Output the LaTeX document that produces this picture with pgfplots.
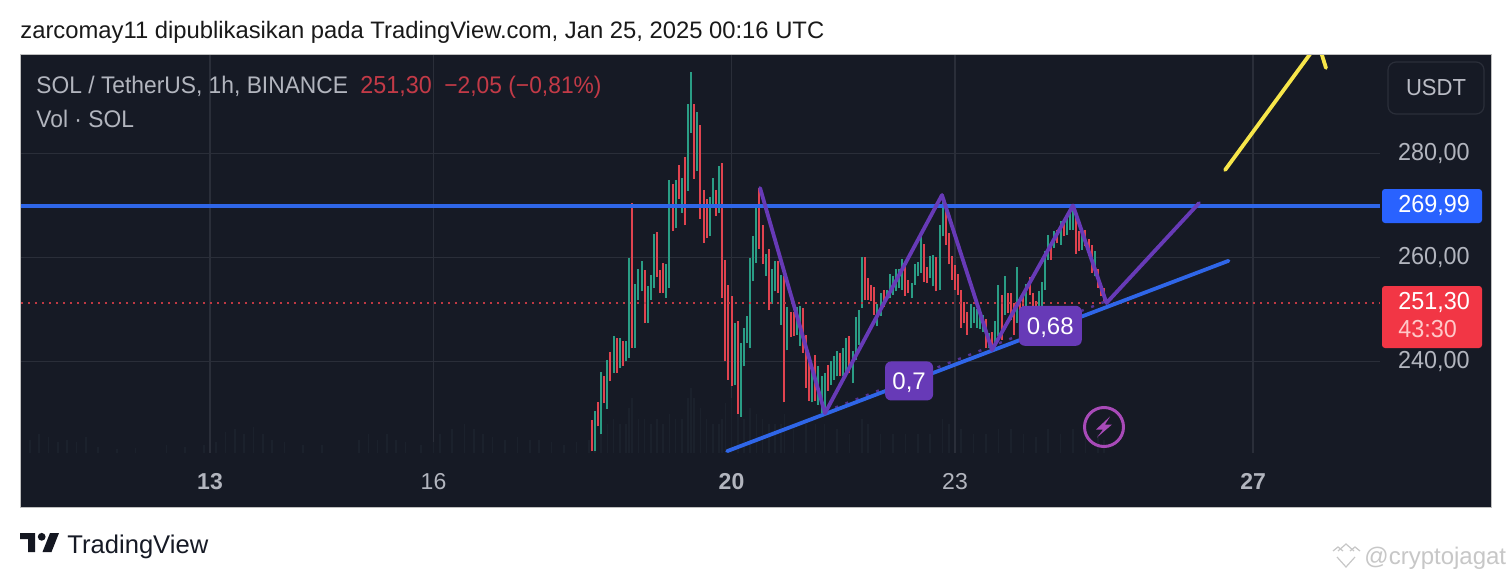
\documentclass[border=0pt]{standalone}
\usepackage{pgfplots}
\usepackage{pgfplotstable}
\usepackage{fontspec}
\setmainfont{Liberation Sans}
\newfontfamily\rob[FakeStretch=0.95]{Liberation Sans}
\pgfplotsset{compat=1.18}
\definecolor{bgc}{HTML}{161A25}
\definecolor{gridc}{HTML}{2A2E39}
\definecolor{txtc}{HTML}{B2B5BE}
\definecolor{upc}{HTML}{2A9D85}
\definecolor{dnc}{HTML}{E0434F}
\definecolor{bluec}{HTML}{2F66E8}
\definecolor{purc}{HTML}{673AB7}
\definecolor{yelc}{HTML}{F7E64A}
\definecolor{legred}{HTML}{C23A47}
\definecolor{volc}{HTML}{1B212C}
\definecolor{boltc}{HTML}{A84AB8}
\definecolor{tagblue}{HTML}{2962FF}
\definecolor{tagred}{HTML}{F23645}
\definecolor{tagpink}{HTML}{FFC8C8}
\pgfplotstableread{
h L H
124 222.76 230.45
126 226.0 238.0
128 230.9 240.4
130 237.8 245.0
132 238.8 244.55
134 240.1 244.0
135 240.7 259.9
137 242.6 255.0
138 251.9 257.8
139 253.5 259.3
141 247.4 254.5
142 251.9 256.7
143 254.2 264.6
147 252.3 258.85
148 254.2 275.0
150 265.7 274.9
152 268.6 275.3
154 272.8 289.6
155 284.0 295.7
157 276.7 288.1
161 264.2 271.7
162 269.6 275.3
164 268.6 277.7
169 235.6 247.4
171 229.4 243.6
172 239.1 246.5
173 243.6 248.7
174 242.6 259.9
175 255.5 264.1
176 259.0 269.9
179 256.5 260.8
181 251.0 257.8
182 253.5 259.3
184 247.1 256.7
186 242.2 250.6
189 245.2 250.6
190 243.0 250.8
194 232.2 238.5
196 231.7 239.1
197 230.1 237.2
198 230.1 237.8
200 235.6 240.1
201 236.5 241.0
202 237.2 242.0
204 237.2 242.6
205 237.8 244.6
207 235.9 242.0
208 240.4 248.6
209 243.3 249.9
210 250.3 260.1
215 246.8 251.0
216 248.7 253.2
218 251.9 253.8
219 252.2 256.9
220 252.9 256.4
221 253.5 257.8
222 254.2 257.8
223 253.8 259.7
226 252.2 255.1
227 254.8 258.7
228 256.4 259.1
229 257.1 264.9
232 256.1 260.3
233 254.5 260.6
235 253.8 266.3
236 264.1 272.1
245 246.5 251.0
246 247.4 250.6
247 246.5 250.1
248 246.2 250.0
249 245.8 249.0
251 242.6 245.5
253 242.6 247.8
254 244.9 254.8
256 249.0 256.4
260 247.4 258.3
263 250.6 255.0
267 250.6 253.5
268 249.7 255.3
269 253.8 261.2
270 259.6 264.4
272 261.9 265.1
274 262.5 267.0
276 264.4 267.6
277 265.4 268.6
278 265.4 270.2
281 261.5 265.1
285 256.4 261.2
}\upbars
\pgfplotstableread{
h L H
123 222.76 228.85
125 227.57 232.18
127 232.05 237.2
129 236.2 241.8
131 237.8 244.55
133 239.2 243.9
136 242.6 270.5
140 247.4 257.6
144 256.3 265.0
145 253.2 257.7
146 253.2 259.0
149 265.1 274.2
151 271.2 277.9
153 266.2 279.3
156 275.1 289.6
158 267.4 285.6
159 262.8 273.0
160 263.8 271.2
163 268.0 273.0
165 252.3 278.3
166 240.1 259.5
167 236.5 254.8
168 235.4 252.7
170 230.0 247.8
177 261.7 273.4
178 258.85 266.3
180 249.9 261.7
183 253.2 259.3
185 232.2 256.4
187 244.7 249.6
188 244.9 249.5
191 241.7 250.3
192 235.0 245.2
193 232.4 241.3
195 232.4 241.3
199 234.4 239.4
203 237.2 241.7
206 237.8 244.9
211 251.9 260.1
212 251.8 256.1
213 251.6 254.8
214 249.0 254.4
217 250.6 253.8
224 252.6 258.7
225 253.2 255.8
230 255.4 262.6
231 255.1 258.3
234 253.5 260.1
237 262.5 269.9
238 258.7 264.7
239 255.8 260.3
240 253.8 258.5
241 252.9 256.9
242 246.5 253.8
243 247.4 251.4
244 245.2 249.5
250 242.6 248.2
252 242.3 245.8
255 244.2 252.9
257 249.4 253.2
258 248.1 253.2
259 245.2 251.3
261 243.9 251.3
262 250.0 252.6
264 252.9 256.3
265 248.7 253.2
266 249.0 251.6
271 259.6 263.1
273 262.8 265.4
275 264.1 267.4
279 260.8 267.9
280 261.2 265.1
282 262.2 265.4
283 260.3 263.5
284 257.1 262.5
286 254.2 257.8
287 252.6 255.1
288 251.2 254.2
}\dnbars
\begin{document}
\begin{tikzpicture}[x=0.5pt,y=-0.5pt]
\path[use as bounding box,fill=white] (0,0) rectangle (1512,578);
\fill[bgc] (21,55) rectangle (1491,507);
\draw[color=black!25,line width=0.5pt] (20.5,54.5) rectangle (1491.5,507.5);
\begin{axis}[
  at={(10.5pt,-226.5pt)},anchor=south west,
  scale only axis,width=679.5pt,height=199pt,
  xmin=-60.89,xmax=376.9,ymin=222.44,ymax=298.98,
  xtick={0,72,168,240,336},
  xticklabels={\textbf{13},16,\textbf{20},23,\textbf{27}},
  ytick={240,260,280},
  yticklabels={240{,}00,260{,}00,280{,}00},
  yticklabel pos=right,
  major tick length=0pt,
  axis line style={draw=none},
  grid=major,
  grid style={color=gridc,line width=0.6pt},
  x tick label style={font=\fontsize{11.5}{13}\selectfont,text=txtc,yshift=-6.5pt},
  y tick label style={font=\rob\fontsize{12.3}{14}\selectfont,text=txtc,anchor=west,xshift=5.5pt},
  clip=true,
]
% volume
\addplot[forget plot,ycomb,color=volc,line width=0.8pt] coordinates {
(-58,225)(-55,226)(-52,225.5)(-49,224.5)(-46,225)(-43,224.5)(-40,225.5)(-36,223.5)(-30,223.2)(-24,223.4)
(-14,224)(-8,223.5)(-2,224)(2,224.5)(5,226.5)(8,227)(11,226)(14,227.5)(17,226)(20,225)(24,224.5)(30,224)(36,224)
(48,225)(51,226)(54,225)(57,226)(60,225)(63,224.5)(68,224)(72,224.5)(74,226)(78,227)(82,228)(85,227)(88,226)(91,225.5)(95,225)(99,225.5)(103,225)(106,225)(110,224.5)(114,224)(118,224.5)(122,225)
(124,228)(126,227)(128,228)(130,229)(132,228)(134,228)(135,231)(136,233)(138,229)(140,229)(142,228)(144,229)(146,228)(148,230)(150,229)(152,229)(154,233)(155,235)(156,233)(158,231)(160,229)(162,228)(164,228)(165,229)(166,232)(168,233)(170,232)(172,229)(174,231)(176,230)(178,229)(180,228)(182,228)(184,228)(185,230)(188,228)(192,228)(195,228)(198,228)(202,227)(206,226)(210,229)(212,228)(216,226)(220,226)(224,226)(228,226)(232,226)(236,229)(238,228)(242,227)(246,226)(250,226)(254,227)(258,227)(262,226)(266,225.5)(270,227)(274,226)(278,227)(282,226)(286,226)(288,225)
};
% candles
\addplot[forget plot,draw=none,mark=none,error bars/.cd,y dir=plus,y explicit,error mark=none,error bar style={draw=upc,line width=1pt}]
  table[x=h,y=L,y error plus expr=\thisrow{H}-\thisrow{L}] {\upbars};
\addplot[forget plot,draw=none,mark=none,error bars/.cd,y dir=plus,y explicit,error mark=none,error bar style={draw=dnc,line width=1pt}]
  table[x=h,y=L,y error plus expr=\thisrow{H}-\thisrow{L}] {\dnbars};
% last price, level
\addplot[forget plot,color=dnc!85!black,line width=0.7pt,dash pattern=on 1.1pt off 2.4pt] coordinates {(-60.89,251.3)(376.9,251.3)};
\addplot[forget plot,color=bluec,line width=1.9pt] coordinates {(-60.89,269.99)(376.9,269.99)};
% trend
\addplot[forget plot,color=purc!75!bgc,line width=1.2pt,dash pattern=on 1.5pt off 4pt] coordinates {(198.1,230.4)(288.5,251.6)};
\addplot[forget plot,color=bluec,line width=1.9pt,line cap=round] coordinates {(166.6,222.8)(328.1,259.4)};
% zigzag
\addplot[forget plot,color=purc,line width=1.9pt,line cap=round,line join=round] coordinates {
(177.2,273.4)(198.1,230.1)(235.8,272.05)(251.9,242.25)(278.0,270.04)(288.8,251.3)(318.6,270.5)};
% arrow
\addplot[forget plot,color=yelc,line width=1.9pt,line cap=round,line join=round] coordinates {
(327.0,276.87)(357.0,301.3)(359.5,296.5)};
\node[fill=purc,rounded corners=3pt,text=white,minimum width=24pt,minimum height=19.5pt,inner sep=0pt,text height=8.6pt,text depth=0pt,font=\fontsize{12}{14}\selectfont] at (axis cs:225.2,236.3) {0,7};
\node[fill=purc,rounded corners=3pt,text=white,minimum width=31.5pt,minimum height=20pt,inner sep=0pt,text height=8.6pt,text depth=0pt,font=\fontsize{12}{14}\selectfont] at (axis cs:270.7,246.9) {0,68};
\end{axis}
% lightning icon
\draw[draw=boltc,line width=1.5pt] (1104,427) circle[radius=19.5];
\fill[boltc] (1110,416.5)--(1096,429.5)--(1103,429.5)--(1097,437.5)--(1112,424.5)--(1105,424.5)--cycle;
% legend
\node[anchor=base west,text=txtc,inner sep=0pt,font=\rob\fontsize{12}{14}\selectfont] at (36,93) {SOL / TetherUS, 1h, BINANCE};
\node[anchor=base west,text=legred,inner sep=0pt,font=\rob\fontsize{12.3}{14}\selectfont] at (360,93) {251,30};
\node[anchor=base west,text=legred,inner sep=0pt,font=\rob\fontsize{12}{14}\selectfont] at (444,93) {−2,05 (−0,81\%)};
\node[anchor=base west,text=txtc,inner sep=0pt,font=\rob\fontsize{12}{14}\selectfont] at (36,127) {Vol · SOL};
% title
\node[anchor=base west,text=black!90,inner sep=0pt,font=\fontsize{11.9}{14}\selectfont] at (20,39) {zarcomay11 dipublikasikan pada TradingView.com, Jan 25, 2025 00:16 UTC};
% price scale
\draw[draw=gridc,fill=bgc,rounded corners=4pt,line width=0.6pt] (1388,62) rectangle (1484,114);
\node[text=txtc!90!white,inner sep=0pt,font=\rob\fontsize{11.6}{14}\selectfont] at (1436,88) {USDT};
\fill[tagblue,rounded corners=1.5pt] (1382,189) rectangle (1482,223);
\node[anchor=base west,text=white,inner sep=0pt,font=\rob\fontsize{12.3}{14}\selectfont] at (1398,212) {269,99};
\fill[tagred,rounded corners=1.5pt] (1382,286) rectangle (1482,348);
\node[anchor=base west,text=white,inner sep=0pt,font=\rob\fontsize{12.3}{14}\selectfont] at (1398,309) {251,30};
\node[anchor=base west,text=tagpink,inner sep=0pt,font=\rob\fontsize{12.3}{14}\selectfont] at (1398,337) {43:30};
% footer
\fill[bgc!90!black] (20,533)--(35,533)--(35,552)--(28,552)--(28,539)--(20,539)--cycle;
\fill[bgc!90!black] (41.7,536.8) circle[radius=3.9];
\fill[bgc!90!black] (50,533)--(59,533)--(51.5,552)--(42.5,552)--cycle;
\node[anchor=base west,text=bgc,inner sep=0pt,font=\fontsize{12.8}{14}\selectfont] at (67,553) {TradingView};
\draw[color=black!22,line width=0.6pt] (1333,551)--(1338,547)--(1343,551) (1338,551) -- (1346,544) -- (1354,551) (1350,551)--(1355,547)--(1360,551) (1337,557)--(1346,567)--(1355,557);
\node[anchor=base west,text=black!22,inner sep=0pt,font=\fontsize{12}{14}\selectfont] at (1364,564) {@cryptojagat};
\end{tikzpicture}
\end{document}
